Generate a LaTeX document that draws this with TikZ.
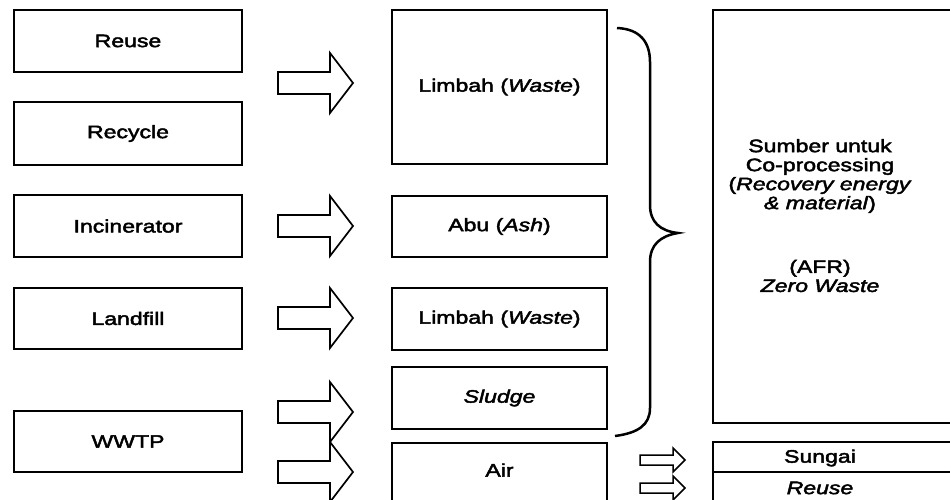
\documentclass[tikz,border=0pt]{standalone}
\usepackage{fontspec}
\setmainfont{Liberation Sans}[FakeStretch=1.28,FakeBold=2.5]
\begin{document}
\begin{tikzpicture}[x=1pt,y=-1pt,
  box/.style={draw,line width=1.8pt},
  lbl/.style={font=\fontsize{18}{19}\selectfont,align=center,inner sep=0pt},
  arrowline/.style={draw,line width=1.7pt,line join=miter},
  bigarrow/.pic={\draw[arrowline] (0,-11) -- (52,-11) -- (52,-30) -- (75,0) -- (52,30) -- (52,11) -- (0,11) -- cycle;},
  smallarrow/.pic={\draw[arrowline,line width=1.5pt] (0,-5) -- (33,-5) -- (33,-12) -- (45,0) -- (33,12) -- (33,5) -- (0,5) -- cycle;}
]
\useasboundingbox (0,0) rectangle (950,500);
% left column
\node[box,minimum width=228pt,minimum height=62pt] (reuse) at (128,41) {};
\node[lbl] (treuse) at (reuse) {Reuse};
\node[box,minimum width=228pt,minimum height=63pt] (recycle) at (128,133.5) {};
\node[lbl] (trecycle) at (recycle) {Recycle};
\node[box,minimum width=228pt,minimum height=62pt] (incin) at (128,226) {};
\node[lbl] (tincin) at (incin) {Incinerator};
\node[box,minimum width=228pt,minimum height=61pt] (landfill) at (128,318.5) {};
\node[lbl] (tlandfill) at (landfill) {Landfill};
\node[box,minimum width=228pt,minimum height=61pt] (wwtp) at (128,441.5) {};
\node[lbl] (twwtp) at (wwtp) {WWTP};
% middle column
\node[box,minimum width=215pt,minimum height=154pt] (waste1) at (499.5,87) {};
\node[lbl] (twaste1) at (waste1) {Limbah (\textit{Waste})};
\node[box,minimum width=215pt,minimum height=61pt] (ash) at (499.5,226.5) {};
\node[lbl] (tash) at (ash) {Abu (\textit{Ash})};
\node[box,minimum width=215pt,minimum height=62pt] (waste2) at (499.5,319) {};
\node[lbl] (twaste2) at (waste2) {Limbah (\textit{Waste})};
\node[box,minimum width=215pt,minimum height=62pt] (sludge) at (499.5,398) {};
\node[lbl] (tsludge) at (sludge) {\textit{Sludge}};
\draw[box] (392,520) -- (392,443) -- (607,443) -- (607,520);
\node[lbl] (tair) at (499.5,470) {Air};
% block arrows
\pic at (278,83) {bigarrow};
\pic at (278,226) {bigarrow};
\pic at (278,318) {bigarrow};
\pic at (278,412) {bigarrow};
\pic at (278,472) {bigarrow};
% brace
\draw[line width=2.5pt] (617,28) .. controls (640,29) and (650,42) .. (650,62) -- (650,205)
  .. controls (650,222) and (660,231) .. (678,233)
  .. controls (660,236) and (650,245) .. (650,262) -- (650,408)
  .. controls (650,425) and (638,433) .. (615,436);
% right column
\draw[box] (960,10) -- (713,10) -- (713,423) -- (960,423);
\node[lbl] (tsumber) at (820,176) {Sumber untuk\\Co-processing\\(\textit{Recovery energy}\\\textit{\& material})};
\node[lbl] (tafr) at (820,276) {(AFR)\\\textit{Zero Waste}};
\draw[box] (960,442) -- (713,442) -- (713,520);
\draw[box] (713,472) -- (960,472);
\node[lbl] (tsungai) at (820,458) {Sungai};
\node[lbl] (treuse2) at (820,488) {\textit{Reuse}};
% small arrows
\pic at (640,460) {smallarrow};
\pic at (640,488) {smallarrow};
\end{tikzpicture}
\end{document}
